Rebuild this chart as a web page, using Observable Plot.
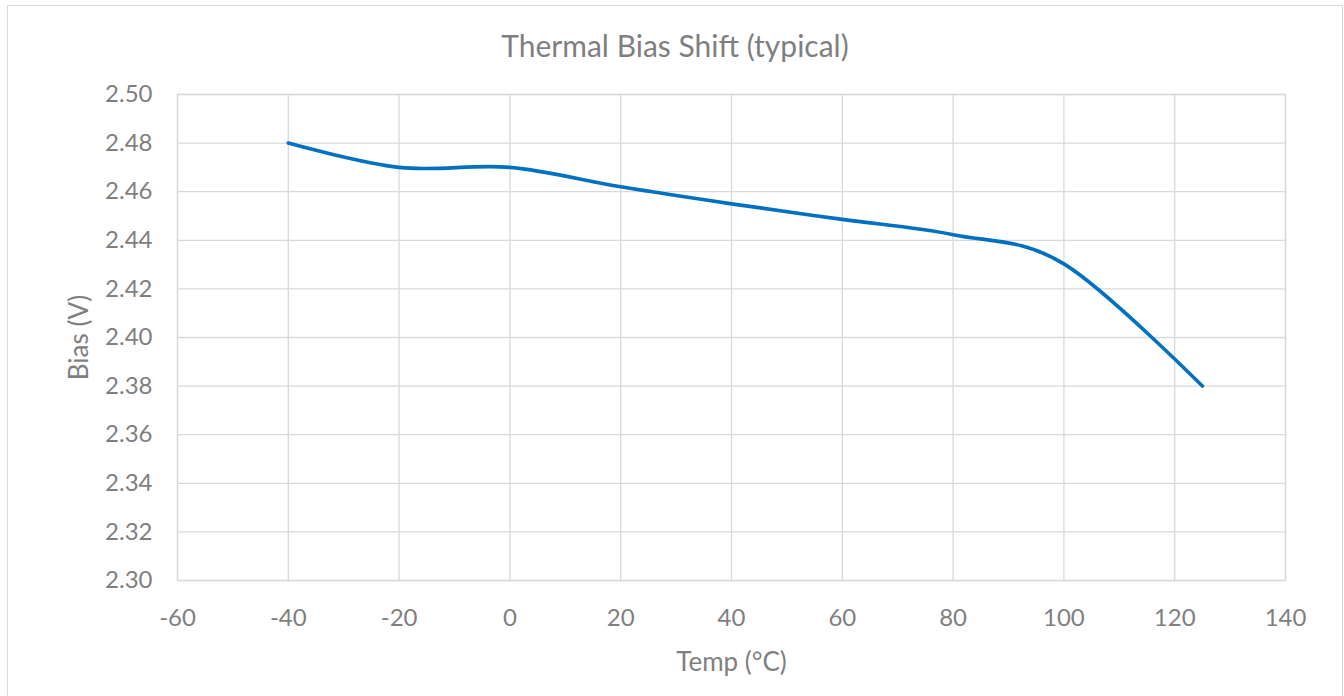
<!DOCTYPE html>
<html>
<head>
<meta charset="utf-8">
<script src="https://cdn.jsdelivr.net/npm/d3@7"></script>
<script src="https://cdn.jsdelivr.net/npm/@observablehq/plot@0.6"></script>
<style>
  html, body { margin: 0; padding: 0; background: #fff; overflow: hidden; }
  #chart { position: absolute; left: 7px; top: 5px; width: 1334px; height: 700px; border: 1px solid #d9d9d9; background: #fff; }
  #title { height: 60px; box-sizing: border-box; padding-top: 24px; text-align: center; font-family: Lato, "Open Sans", sans-serif; font-size: 30px; color: #7f7f7f; line-height: 30px; }
</style>
</head>
<body>
<div id="chart">
  <div id="title">Thermal Bias Shift (typical)</div>
  <div id="plot"></div>
</div>
<script>
const temps = [-40, -20, 0, 20, 40, 60, 80, 100, 125];
const bias  = [2.480, 2.470, 2.470, 2.462, 2.455, 2.4486, 2.4423, 2.4303, 2.380];
const xTicks = [-60, -40, -20, 0, 20, 40, 60, 80, 100, 120, 140];
const yTicks = [2.30, 2.32, 2.34, 2.36, 2.38, 2.40, 2.42, 2.44, 2.46, 2.48, 2.50];

const data = temps.map((t, i) => ({temp: t, bias: bias[i]}));
const grid = "#d9d9d9";
const textColor = "#7f7f7f";

const chart = Plot.plot({
  width: 1334,
  height: 630,
  marginLeft: 169,
  marginRight: 57,
  marginTop: 28,
  marginBottom: 116,
  style: {fontFamily: "Lato, 'Open Sans', sans-serif", fontSize: "24px", color: textColor, background: "#fff"},
  x: {domain: [-60, 140], ticks: xTicks},
  y: {domain: [2.30, 2.50], ticks: yTicks},
  marks: [
    Plot.gridX(xTicks, {stroke: grid, strokeOpacity: 1, strokeWidth: 1.3}),
    Plot.gridY(yTicks, {stroke: grid, strokeOpacity: 1, strokeWidth: 1.3}),
    Plot.frame({stroke: grid, strokeWidth: 1.3}),
    Plot.axisX({ticks: xTicks, tickSize: 0, tickPadding: 28, tickFormat: d => String(d), label: null, fontSize: 24}),
    Plot.axisX({ticks: [], label: "Temp (°C)", labelAnchor: "center", labelArrow: "none", labelOffset: 90, fontSize: 26}),
    Plot.axisY({ticks: yTicks, tickSize: 0, tickPadding: 25, tickFormat: d3.format(".2f"), label: null, fontSize: 24}),
    Plot.axisY({ticks: [], label: "Bias (V)", labelAnchor: "center", labelArrow: "none", labelOffset: 108, fontSize: 26}),
    Plot.line(data, {x: "temp", y: "bias", stroke: "#0070C0", strokeWidth: 3.6, curve: "cardinal"})
  ]
});
document.getElementById("plot").appendChild(chart);
</script>
</body>
</html>
